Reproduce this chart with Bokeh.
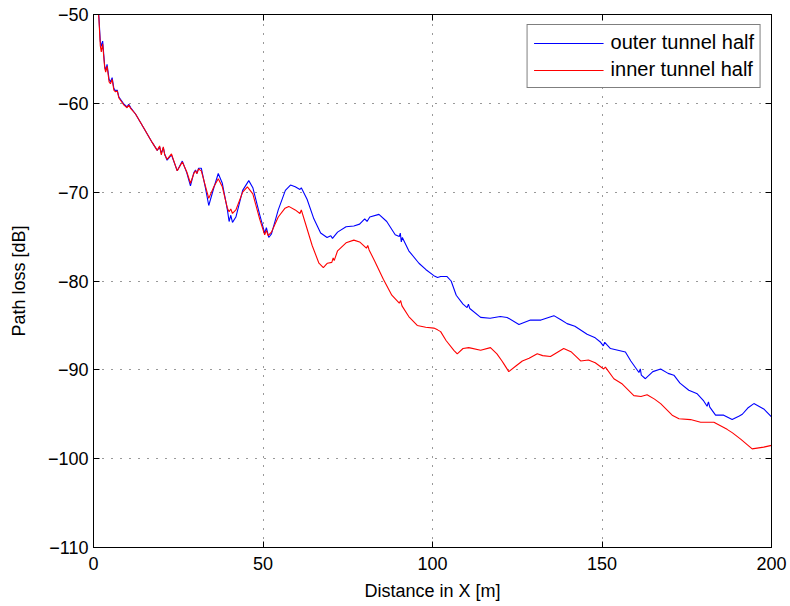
from bokeh.plotting import figure
from bokeh.models import (LinearAxis, Range1d, FixedTicker, CustomJSTickFormatter,
                          Legend, LegendItem)
from bokeh.embed import file_html
from bokeh.resources import INLINE

# ---------------- data ----------------
outer_x = [1.3, 1.6, 2.0, 2.3, 2.7, 3.3, 3.6, 4.0, 4.6, 5.0, 5.5, 6.0, 6.5, 7.0, 7.5,
           9.0, 9.9, 10.4, 11.0, 12.4, 15.0, 17.3, 18.8, 19.5, 20.0, 20.6, 21.0, 21.7,
           23.0, 24.7, 26.2, 27.5, 28.6, 29.6, 30.1, 30.5, 31.0, 31.8, 33.0, 34.0, 35.5,
           36.8, 38.0, 39.5, 40.0, 40.5, 41.0, 42.0, 44.0, 45.8, 47.0, 49.0, 50.5, 51.0,
           51.7, 52.5, 54.5, 56.6, 58.1, 59.5, 60.9, 61.3, 63.0, 65.0, 67.0, 68.9, 70.0,
           70.5, 72.0, 74.5, 76.8, 78.5, 80.0, 80.7, 81.5, 84.2, 86.5, 89.0, 90.2, 90.5,
           90.8, 91.1, 93.0, 96.0, 98.0, 100.4, 101.5, 102.4, 104.3, 105.5, 107.0, 109.0,
           110.2, 110.6, 111.0, 114.2, 117.0, 120.0, 122.0, 125.5, 128.9, 132.0, 135.8,
           138.0, 139.7, 142.0, 145.6, 148.0, 149.6, 150.4, 150.8, 152.5, 156.9, 158.5,
           160.9, 161.3, 161.6, 162.8, 165.0, 167.3, 169.5, 171.2, 173.0, 175.6, 178.1,
           180.0, 181.0, 181.4, 181.8, 183.5, 185.9, 188.4, 190.5, 191.4, 193.0, 194.8,
           197.7, 200.0]
outer_db = [-49.0, -50.3, -53.0, -53.6, -53.0, -55.8, -56.3, -55.6, -57.3, -57.6, -57.1,
            -58.3, -58.6, -58.5, -59.3, -60.1, -60.4, -60.1, -60.5, -61.2, -62.9, -64.4,
            -65.3, -64.9, -65.6, -65.0, -65.7, -66.4, -65.8, -67.6, -66.5, -67.8, -69.3,
            -67.8, -67.5, -67.9, -67.3, -67.3, -69.5, -71.5, -69.5, -67.9, -69.0, -72.0,
            -73.3, -72.6, -73.4, -72.8, -69.8, -68.7, -69.5, -72.5, -74.6, -74.0, -75.1,
            -74.7, -72.0, -69.8, -69.2, -69.4, -69.7, -69.5, -70.8, -73.0, -74.6, -75.1,
            -74.9, -75.2, -74.5, -73.9, -73.8, -73.6, -73.0, -73.3, -72.8, -72.5, -73.3,
            -74.8, -75.0, -74.6, -75.6, -75.1, -76.6, -78.0, -78.7, -79.4, -79.6, -79.5,
            -79.5, -80.0, -81.6, -82.6, -83.0, -82.6, -83.1, -84.1, -84.2, -84.0, -84.1,
            -84.9, -84.4, -84.4, -83.9, -84.4, -84.8, -85.1, -86.0, -86.4, -86.9, -87.3,
            -86.9, -87.6, -88.0, -89.0, -90.3, -89.9, -90.6, -91.0, -90.2, -89.9, -90.4,
            -90.6, -91.5, -92.3, -92.7, -93.5, -94.1, -93.6, -94.2, -95.1, -95.1, -95.6,
            -95.2, -95.0, -94.3, -93.8, -94.4, -95.3]

inner_x = [1.3, 1.6, 2.0, 2.3, 2.7, 3.3, 3.6, 4.0, 4.6, 5.0, 5.5, 6.0, 6.5, 7.0, 7.5,
           9.0, 9.9, 10.4, 11.0, 12.4, 15.0, 17.3, 18.8, 19.5, 20.0, 20.6, 21.0, 21.7,
           23.0, 24.7, 26.2, 27.5, 28.6, 29.6, 30.1, 30.5, 31.0, 31.8, 33.0, 34.0, 35.5,
           36.8, 38.0, 39.5, 40.0, 40.5, 41.0, 42.0, 44.0, 45.4, 47.0, 49.0, 50.5, 51.0,
           51.5, 52.5, 54.5, 56.5, 57.6, 59.5, 60.9, 61.3, 62.5, 64.5, 66.5, 67.8, 69.0,
           70.3, 70.7, 71.0, 72.0, 74.5, 76.8, 78.5, 80.5, 80.9, 81.3, 83.0, 85.5, 88.0,
           90.2, 90.6, 91.0, 93.0, 95.5, 98.0, 100.4, 101.5, 102.4, 104.0, 106.3, 107.3,
           109.0, 110.7, 114.2, 117.1, 119.0, 120.5, 121.0, 122.5, 124.5, 126.5, 128.5,
           130.9, 132.5, 134.8, 138.7, 141.0, 143.7, 146.0, 148.0, 150.5, 151.0, 153.5,
           156.0, 159.4, 161.5, 163.3, 165.5, 167.3, 170.7, 172.7, 176.1, 179.1, 183.0,
           186.9, 188.5, 190.9, 194.3, 197.7, 200.0]
inner_db = [-49.0, -50.5, -53.5, -54.2, -53.3, -56.0, -56.5, -55.8, -57.6, -57.8, -57.3,
            -58.5, -58.7, -58.6, -59.4, -60.2, -60.5, -60.2, -60.6, -61.2, -62.9, -64.4,
            -65.3, -64.8, -65.8, -64.9, -65.8, -66.3, -65.7, -67.6, -66.6, -67.7, -69.0,
            -67.9, -67.6, -67.9, -67.4, -67.6, -69.3, -70.7, -69.4, -68.5, -69.4, -71.8,
            -72.2, -71.9, -72.4, -72.0, -70.0, -69.4, -70.2, -73.0, -74.8, -74.3, -74.9,
            -74.5, -72.8, -71.8, -71.6, -72.0, -72.4, -72.0, -73.5, -76.0, -78.0, -78.5,
            -78.0, -77.9, -77.4, -77.7, -76.6, -75.7, -75.4, -75.6, -76.3, -76.0, -76.5,
            -77.8, -79.8, -81.6, -82.5, -82.2, -82.8, -84.0, -85.0, -85.2, -85.3, -85.5,
            -85.7, -86.7, -87.8, -88.2, -87.6, -87.5, -87.8, -87.5, -88.2, -89.0, -89.3,
            -90.2, -89.6, -89.0, -88.7, -88.2, -88.4, -88.5, -87.6, -88.0, -89.0, -88.9,
            -89.2, -89.9, -89.7, -91.0, -91.6, -92.9, -93.0, -92.8, -93.3, -93.8, -95.1,
            -95.5, -95.6, -95.9, -95.9, -96.7, -97.1, -97.8, -98.9, -98.7, -98.5]

x_ticks = [0, 50, 100, 150, 200]
y_ticks = [-110, -100, -90, -80, -70, -60, -50]
series_names = ["outer tunnel half", "inner tunnel half"]

# ---------------- figure ----------------
FONT = "Liberation Sans"

p = figure(width=790, height=606, output_backend="svg", toolbar_location=None,
           x_range=Range1d(0, 200), y_range=Range1d(-110, -50),
           min_border_left=93, min_border_right=19, min_border_top=14,
           min_border_bottom=59, x_axis_label="Distance in X [m]",
           y_axis_label="Path loss [dB]")
p.background_fill_color = "white"
p.border_fill_color = "white"
p.outline_line_color = "black"
p.outline_line_width = 1

minus_fmt = CustomJSTickFormatter(code="""
    return tick < 0 ? '\\u2212' + Math.abs(tick) : String(tick);
""")
blank_fmt = CustomJSTickFormatter(code="return '';")

p.xaxis.ticker = FixedTicker(ticks=x_ticks)
p.yaxis.ticker = FixedTicker(ticks=y_ticks)
p.yaxis.formatter = minus_fmt

for ax in list(p.xaxis) + list(p.yaxis):
    ax.major_tick_in = 6
    ax.major_tick_out = 0
    ax.minor_tick_in = 0
    ax.minor_tick_out = 0
    ax.axis_line_color = "black"
    ax.major_tick_line_color = "black"
    ax.major_label_text_font = FONT
    ax.major_label_text_font_size = "18px"
    ax.major_label_text_color = "black"
    ax.axis_label_text_font = FONT
    ax.axis_label_text_font_size = "18px"
    ax.axis_label_text_font_style = "normal"
    ax.axis_label_text_color = "black"

p.xaxis.major_label_standoff = 9
p.xaxis.axis_label_standoff = 8
p.yaxis.major_label_standoff = 5
p.yaxis.axis_label_standoff = 16

# box axes on top and right (ticks only, no labels)
top_ax = LinearAxis(ticker=FixedTicker(ticks=x_ticks), formatter=blank_fmt,
                    major_tick_in=6, major_tick_out=0, minor_tick_in=0, minor_tick_out=0,
                    major_label_standoff=0, axis_line_color="black",
                    major_tick_line_color="black")
right_ax = LinearAxis(ticker=FixedTicker(ticks=y_ticks), formatter=blank_fmt,
                      major_tick_in=6, major_tick_out=0, minor_tick_in=0, minor_tick_out=0,
                      major_label_standoff=0, axis_line_color="black",
                      major_tick_line_color="black")
p.add_layout(top_ax, "above")
p.add_layout(right_ax, "right")

# dotted grid
p.xgrid.ticker = FixedTicker(ticks=x_ticks)
p.ygrid.ticker = FixedTicker(ticks=y_ticks)
for g in list(p.xgrid) + list(p.ygrid):
    g.grid_line_color = "black"
    g.grid_line_alpha = 0.8
    g.grid_line_dash = "1 8"
    g.grid_line_width = 1

r_outer = p.line(outer_x, outer_db, line_color="#0000ff", line_width=1.1)
r_inner = p.line(inner_x, inner_db, line_color="#ff0000", line_width=1.1)

legend = Legend(items=[LegendItem(label=series_names[0], renderers=[r_outer]),
                       LegendItem(label=series_names[1], renderers=[r_inner])],
                location="top_right")
legend.margin = 10
legend.padding = 6
legend.spacing = 4
legend.glyph_width = 70
legend.glyph_height = 22
legend.label_height = 22
legend.label_standoff = 7
legend.label_text_font = FONT
legend.label_text_font_size = "20px"
legend.label_text_color = "black"
legend.border_line_color = "black"
legend.border_line_width = 1
legend.background_fill_color = "white"
legend.background_fill_alpha = 1
p.add_layout(legend)

open("out.html", "w").write(file_html(p, INLINE))
